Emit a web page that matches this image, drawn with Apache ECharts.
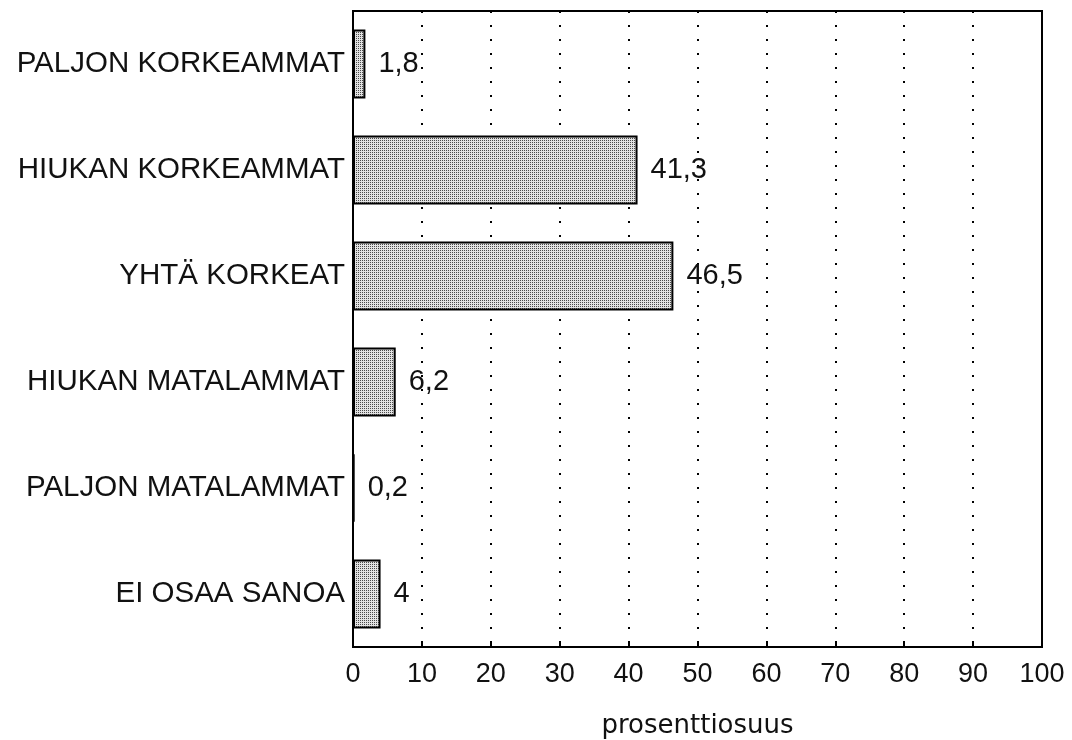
<!DOCTYPE html>
<html>
<head>
<meta charset="utf-8">
<script src="https://cdn.jsdelivr.net/npm/echarts@6/dist/echarts.min.js"></script>
<style>html,body{margin:0;padding:0;background:#fff;}#c{width:1072px;height:740px;}</style>
</head>
<body>
<div id="c"></div>
<script>
const categories = ['PALJON KORKEAMMAT', 'HIUKAN KORKEAMMAT', 'YHTÄ KORKEAT', 'HIUKAN MATALAMMAT', 'PALJON MATALAMMAT', 'EI OSAA SANOA'];
const values = [1.8, 41.3, 46.5, 6.2, 0.2, 4];
const axisName = 'prosenttiosuus';

const pc = document.createElement('canvas');
pc.width = 2; pc.height = 2;
const pctx = pc.getContext('2d');
pctx.fillStyle = '#e2e2e2'; pctx.fillRect(0, 0, 2, 2);
pctx.fillStyle = '#4a4a4a'; pctx.fillRect(0, 0, 1, 1);

const font = '"Liberation Sans", Arial, Helvetica, sans-serif';
const chart = echarts.init(document.getElementById('c'));
chart.setOption({
  animation: false,
  grid: { left: 353, top: 11, right: 30, bottom: 93, show: true, borderColor: '#000', borderWidth: 2, containLabel: false, outerBoundsMode: 'none' },
  xAxis: {
    type: 'value', min: 0, max: 100, interval: 10,
    name: axisName, nameLocation: 'middle', nameGap: 66,
    nameTextStyle: { fontFamily: '"DejaVu Sans", sans-serif', fontSize: 26, color: '#111' },
    axisLine: { show: true, lineStyle: { color: '#000', width: 2 } },
    axisTick: { show: true, inside: true, length: 6, lineStyle: { color: '#000', width: 2 } },
    axisLabel: { fontFamily: font, fontSize: 27, color: '#111', margin: 14 },
    splitLine: { show: true, lineStyle: { color: '#000', width: 2, type: [2, 12] } }
  },
  yAxis: {
    type: 'category', data: categories, inverse: true,
    axisLine: { show: true, lineStyle: { color: '#000', width: 2 } },
    axisTick: { show: false },
    axisLabel: { fontFamily: font, fontSize: 29.5, color: '#111', margin: 8 }
  },
  series: [{
    type: 'bar', data: values, barWidth: 69,
    itemStyle: { color: { image: pc, repeat: 'repeat' }, borderColor: '#000', borderWidth: 2 },
    label: {
      show: true, position: 'right', distance: 13,
      fontFamily: font, fontSize: 29, color: '#111',
      formatter: p => String(p.value).replace('.', ',')
    }
  }]
});
</script>
</body>
</html>
